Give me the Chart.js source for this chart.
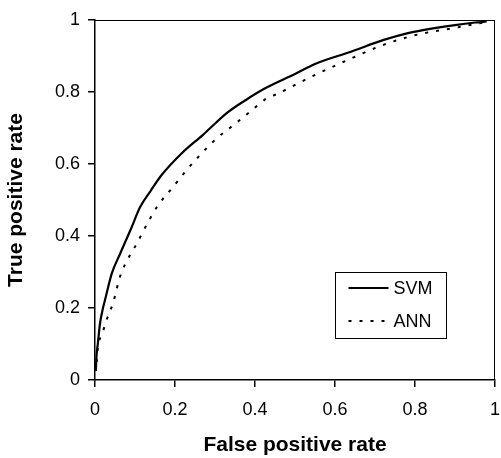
<!DOCTYPE html>
<html>
<head>
<meta charset="utf-8">
<script src="https://cdn.jsdelivr.net/npm/chart.js@4.4.0/dist/chart.umd.min.js"></script>
<style>
    html, body { margin: 0; padding: 0; background: #fff; }
    #wrap { width: 501px; height: 458px; }
</style>
</head>
<body>
<div id="wrap"><canvas id="rocChart"></canvas></div>
<script>
// ROC curve points: false positive rate / true positive rate
const svmFpr = [0.002, 0.004, 0.007, 0.0125, 0.02, 0.025, 0.042, 0.0625, 0.09, 0.1125, 0.14, 0.167, 0.217, 0.27, 0.33, 0.38, 0.43, 0.5, 0.55, 0.64, 0.72, 0.78, 0.82, 0.9, 0.95, 0.979];
const svmTpr = [0.025, 0.07, 0.10, 0.157, 0.2, 0.222, 0.296, 0.35, 0.42, 0.48, 0.527, 0.570, 0.630, 0.681, 0.742, 0.78, 0.813, 0.85, 0.878, 0.912, 0.944, 0.963, 0.972, 0.986, 0.993, 0.996];

const annFpr = [0.004, 0.008, 0.017, 0.029, 0.046, 0.0625, 0.0875, 0.1025, 0.129, 0.158, 0.192, 0.229, 0.267, 0.304, 0.346, 0.383, 0.429, 0.454, 0.54, 0.65, 0.721, 0.78, 0.821, 0.904, 0.971];
const annTpr = [0.05, 0.097, 0.125, 0.167, 0.217, 0.287, 0.347, 0.375, 0.431, 0.486, 0.532, 0.583, 0.630, 0.671, 0.708, 0.741, 0.782, 0.794, 0.842, 0.898, 0.931, 0.952, 0.963, 0.979, 0.993];

const axisTicks = [0, 0.2, 0.4, 0.6, 0.8, 1];
const seriesNames = ['SVM', 'ANN'];

const FONT = "'Liberation Sans', Arial, sans-serif";

function toPoints(xs, ys) {
    return xs.map((x, i) => ({ x: x, y: ys[i] }));
}

// Box round the plot area (top and right edges)
const framePlugin = {
    id: 'frame',
    afterDraw(chart) {
        const { ctx, chartArea } = chart;
        ctx.save();
        ctx.strokeStyle = '#000';
        ctx.lineWidth = 1;
        ctx.beginPath();
        ctx.moveTo(chartArea.left, chartArea.top + 0.5);
        ctx.lineTo(chartArea.right, chartArea.top + 0.5);
        ctx.moveTo(chartArea.right - 0.5, chartArea.top);
        ctx.lineTo(chartArea.right - 0.5, chartArea.bottom);
        ctx.stroke();
        ctx.restore();
    }
};

// Boxed legend inside the lower right of the plot
const boxLegendPlugin = {
    id: 'boxLegend',
    afterDraw(chart) {
        const { ctx } = chart;
        const xs = chart.scales.x, ys = chart.scales.y;
        const left = Math.round(xs.getPixelForValue(0.6)) + 0.5;
        const right = Math.round(xs.getPixelForValue(0.8775)) + 0.5;
        const top = Math.round(ys.getPixelForValue(0.3)) + 0.5;
        const bottom = Math.round(ys.getPixelForValue(0.117)) + 0.5;

        ctx.save();
        ctx.fillStyle = '#fff';
        ctx.fillRect(left, top, right - left, bottom - top);
        ctx.strokeStyle = '#000';
        ctx.lineWidth = 1;
        ctx.strokeRect(left, top, right - left, bottom - top);

        const rowH = (bottom - top) / 2;
        chart.data.datasets.forEach((ds, i) => {
            const y = top + rowH * (i + 0.5) - 1;
            ctx.beginPath();
            ctx.setLineDash(ds.borderDash || []);
            ctx.lineWidth = ds.borderWidth;
            ctx.strokeStyle = ds.borderColor;
            ctx.moveTo(left + 13, y);
            ctx.lineTo(left + 53, y);
            ctx.stroke();
            ctx.setLineDash([]);
            ctx.fillStyle = '#000';
            ctx.font = '18px ' + FONT;
            ctx.textAlign = 'left';
            ctx.textBaseline = 'middle';
            ctx.fillText(ds.label, left + 58, y + 1);
        });
        ctx.restore();
    }
};

const ctx = document.getElementById('rocChart');

new Chart(ctx.getContext('2d'), {
    type: 'scatter',
    data: {
        datasets: [{
            label: seriesNames[0],
            data: toPoints(svmFpr, svmTpr),
            showLine: true,
            borderColor: '#000',
            borderWidth: 2.2,
            pointRadius: 0,
            cubicInterpolationMode: 'monotone'
        }, {
            label: seriesNames[1],
            data: toPoints(annFpr, annTpr),
            showLine: true,
            borderColor: '#000',
            borderWidth: 2,
            borderDash: [3, 8],
            pointRadius: 0,
            cubicInterpolationMode: 'monotone'
        }]
    },
    options: {
        responsive: true,
        maintainAspectRatio: false,
        animation: false,
        layout: {
            padding: { top: 20, right: 6, left: 0, bottom: 0 }
        },
        plugins: {
            legend: { display: false },
            tooltip: { enabled: false }
        },
        scales: {
            x: {
                type: 'linear',
                min: 0,
                max: 1,
                afterBuildTicks: scale => { scale.ticks = axisTicks.map(v => ({ value: v })); },
                afterFit: scale => {
                    scale.height = 78;
                    scale.paddingLeft = 0;
                    scale.paddingRight = 0;
                },
                ticks: {
                    color: '#000',
                    font: { family: FONT, size: 18 },
                    padding: 12,
                    maxRotation: 0,
                    callback: v => String(v)
                },
                grid: { drawOnChartArea: false, drawTicks: true, tickLength: 7, color: '#000', lineWidth: 1.5 },
                border: { display: true, color: '#000', width: 1.5 },
                title: {
                    display: true,
                    text: 'False positive rate',
                    color: '#000',
                    font: { family: FONT, size: 21, weight: 'bold' },
                    padding: { top: 0, bottom: 0 }
                }
            },
            y: {
                type: 'linear',
                min: 0,
                max: 1,
                afterBuildTicks: scale => { scale.ticks = axisTicks.map(v => ({ value: v })); },
                afterFit: scale => {
                    scale.width = 95;
                    scale.paddingTop = 0;
                    scale.paddingBottom = 0;
                },
                ticks: {
                    color: '#000',
                    font: { family: FONT, size: 18 },
                    padding: 8,
                    callback: v => String(v)
                },
                grid: { drawOnChartArea: false, drawTicks: true, tickLength: 7, color: '#000', lineWidth: 1.5 },
                border: { display: true, color: '#000', width: 1.5 },
                title: {
                    display: true,
                    text: 'True positive rate',
                    color: '#000',
                    font: { family: FONT, size: 21, weight: 'bold' },
                    padding: { top: 4, bottom: 0 }
                }
            }
        }
    },
    plugins: [framePlugin, boxLegendPlugin]
});
</script>
</body>
</html>
